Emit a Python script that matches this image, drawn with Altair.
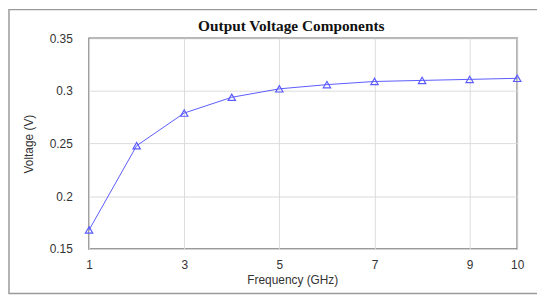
import altair as alt
import pandas as pd

freq = [1, 2, 3, 4, 5, 6, 7, 8, 9, 10]
voltage = [0.168, 0.248, 0.279, 0.294, 0.302, 0.306, 0.309, 0.310, 0.311, 0.312]
x_ticks = [1, 3, 5, 7, 9, 10]
y_ticks = [0.15, 0.2, 0.25, 0.3, 0.35]

df = pd.DataFrame({"f": freq, "v": voltage})

W, H = 433, 213
blue = "#5b5bff"

common = dict(ticks=False, domain=False, gridColor="#dcdcdc",
              labelFont="Liberation Sans", labelFontSize=12, labelColor="#333",
              titleFont="Liberation Sans", titleFontSize=12, titleColor="#333",
              titleFontWeight="normal")

x = alt.X("f:Q", scale=alt.Scale(domain=[1, 10], nice=False),
          axis=alt.Axis(values=x_ticks, title="Frequency (GHz)", format="d",
                        labelPadding=11, titlePadding=4, labelFlush=False,
                        titleX=W / 2 - 11, **common))
y = alt.Y("v:Q", scale=alt.Scale(domain=[0.15, 0.35], nice=False, zero=False),
          axis=alt.Axis(values=y_ticks, title="Voltage (V)", labelPadding=17,
                        titlePadding=14,
                        labelExpr="datum.value == 0.3 ? '0.3' : datum.value == 0.2 ? '0.2' : datum.label",
                        **common))

frame = alt.Chart(pd.DataFrame({"a": [0]})).mark_rect(
    fill=None, stroke="#9a9a9a", strokeWidth=1.5, clip=False
).encode(x=alt.value(-81), x2=alt.value(W + 30), y=alt.value(-29), y2=alt.value(H + 45))

line = alt.Chart(df).mark_line(color=blue, strokeWidth=1).encode(x=x, y=y)
pts = alt.Chart(df).mark_point(shape="triangle-up", filled=False, color=blue,
                               size=55, strokeWidth=1.2, opacity=1).encode(x="f:Q", y="v:Q")

chart = alt.layer(frame, line, pts).properties(
    width=W, height=H,
    background="white",
    autosize=alt.AutoSizeParams(type="none"),
    padding={"left": 82, "top": 29, "right": 20, "bottom": 47},
    title=alt.TitleParams("Output Voltage Components", font="Liberation Serif",
                          fontSize=15.5, fontWeight="bold", color="#111",
                          anchor="middle", dx=-12, offset=-26),
).configure_view(stroke="#707070", strokeWidth=1.5)

chart.save("out.html", embed_options={"renderer": "svg", "actions": False})
